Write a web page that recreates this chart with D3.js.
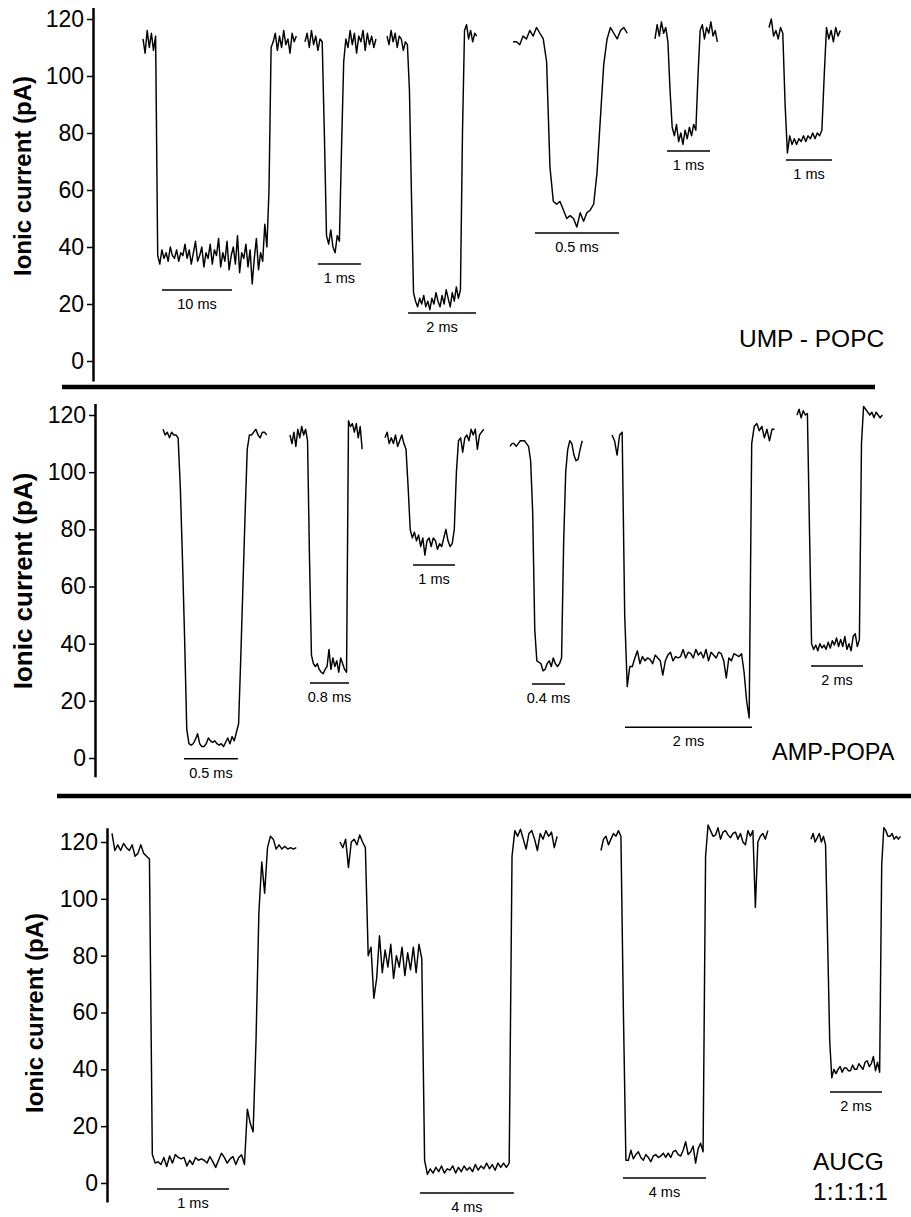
<!DOCTYPE html>
<html lang="en">
<head>
  <meta charset="UTF-8">
  <title>Ionic current blockades</title>
  <script src="https://d3js.org/d3.v7.min.js"></script>
  <style>
    body { margin: 0; background: #fff; }
    svg { display: block; font-family: "Liberation Sans", Arial, sans-serif; }
  </style>
</head>
<body>
<div id="chart"></div>
<script>
  // ---------- data ----------
  var yTicks = [0, 20, 40, 60, 80, 100, 120];
  var yTitle = "Ionic current (pA)";
  var panelNames = [["UMP - POPC"], ["AMP-POPA"], ["AUCG", "1:1:1:1"]];

  // UMP - POPC, current in pA, evenly sampled
  var ump1 = [113,108,116,110,115,109,114,
    37,34,39,36,38,35,40,37,36,39,35,38,37,41,
    36,39,34,38,42,35,37,40,33,38,36,41,34,39,37,
    43,33,38,35,42,32,37,40,34,44,31,38,36,41,33,
    39,27,36,43,32,38,35,48,40,60,110,
    112,115,109,114,110,116,111,113,108,115,112,114];
  var ump2 = [112,115,110,116,111,114,109,113,112,80,
    44,41,46,40,38,44,42,75,105,
    113,110,116,111,115,108,114,112,116,109,115,111,114,110,113];
  var ump3 = [114,111,116,112,115,110,114,113,109,112,111,95,58,
    24,21,19,22,20,23,19,21,18,22,20,24,21,19,23,20,25,22,19,24,21,26,22,25,
    80,116,118,113,116,112,115,114];
  var ump4 = [112,112,111,114,113,116,114,117,115,113,105,68,
    56,55,56,53,50,51,50,47,52,49,52,53,55,66,85,104,
    113,117,115,113,116,117,115];
  var ump5 = [113,118,114,119,115,117,112,95,
    82,79,83,77,80,76,81,78,82,79,83,81,100,
    116,118,113,117,115,119,114,116,112];
  var ump6 = [117,120,114,116,113,117,115,90,
    73,79,76,78,76,78,77,79,77,79,78,80,78,80,79,81,100,
    117,113,116,112,117,114,116];
  var umpDt = [0.3, 0.05, 0.06, 0.02, 0.05, 0.05];   // ms per sample
  var umpBarMs = [10, 1, 2, 0.5, 1, 1];

  // AMP-POPA
  var amp1 = [115,113,114,112,114,113,113,112,95,70,42,10,
    5,4.5,5,6.5,8.5,5,4,4,5,7,6,5.5,6,5,4.5,5,4,5.5,7,5,7.5,6,9,
    12,35,60,85,108,113,113,114,115,113,112,114,114,113];
  var amp2 = [113,110,114,109,115,112,116,113,115,111,70,36,
    33,32,33,31,30,29.5,31,32,38,31,35,32,34,30,35,33,31,30,
    118,116,117,114,117,112,116,108];
  var amp3 = [112,114,110,112,110,113,109,111,113,110,108,95,80,
    77,79,76,78,74,77,71,76,77,74,77,76,73,75,74,77,80,76,74,75,80,
    100,111,112,107,112,113,111,115,113,115,108,113,114,115];
  var amp4 = [109,110,110,109,110,111,111,111,110,109,104,86,45,34,
    33.5,33,30.5,31,33,34,32,35,33,32,33,35,
    75,100,108,111,110,106,104,104.5,108,111];
  var amp5 = [113,111,106,113,114,50,25,
    32,32,35,37.5,33,35.5,34,35,34.5,33,36,35,34,29,34,36,37,34,35.5,35,
    35.5,38,35,37,36.5,35,38,36,37,35,38,34,37,36,35,37,36.5,34,28,35,
    34,36.5,36,35.5,36.5,30,20,14,110,
    116,117,114.5,116,112,115,111,115,115];
  var amp6 = [120,122,119,121.5,120,120.5,80,40,
    38,39.5,37.5,40,38.5,39.5,38,40.5,38.5,41,39.5,42,39,41.5,39,42.5,38,40,37.5,42.5,43.5,39,41.5,
    110,123,122,121,120,121,119,121,120,119,120];
  var ampDt = [0.02, 0.04, 0.05, 0.025, 0.04, 0.08];
  var ampBarMs = [0.5, 0.8, 1, 0.4, 2, 2];

  // AUCG 1:1:1:1
  var aucg1 = [123,117,119,117,119.5,118,117,119,115,116,119,116,115,114,10,
    7,7.5,6.5,9,5.8,9.5,7,10,9,8.5,9,6,8,6.5,9,8,8.5,8,7,9.3,
    7.5,5.5,8,10.5,9,7,8.5,9.3,6.5,9,9.9,6.5,
    26,21,18,50,95,113,102,118,122,121,117.5,119,117.5,118.5,117.5,118,117.5,118];
  var aucg2 = [120,118,121,111,120,121,119,122.5,120,118,80,
    83,65,72,87,74,82,76,84,72,80,76,83,73,81,75,83,74,84,79,8,
    3,5,3.5,5.5,4,6,3.5,5,4.5,6,3.5,5.5,4,6,4.5,5.5,4,6.5,4.5,6,
    5,7,5,6.5,4.5,7,5.5,7,5.5,7,115,
    124,122,124.5,121,117.5,123,124,121,117,123,121,124,122,123.5,118,122];
  var aucg3 = [117,121,122,119,121,123,122,124,122,60,8,
    8,11.5,8.5,10,11,9,8,10,9,7.5,9.5,10,9,9.5,10.5,9,10.5,9,11,11.5,
    10,9.5,11.5,14.5,10,11,13,7,12,14,11,115,126,
    124,122,122.5,125,121,123.5,124,122.5,121.5,123,123.5,121,123,120,119,124,122,124,97,120,
    122,123,121,124];
  var aucg4 = [121,123,120,121.5,123,120,122,119,85,50,37,
    40,38.5,40,41,39,40.5,40.5,39.5,39.5,41.5,40,40,42,41,40,42.5,43,41,42,44.5,39.5,42.5,39,
    112,125,124,122,122,123,121,122,121,122];
  var aucgDt = [0.04, 0.12, 0.12, 0.08];
  var aucgBarMs = [1, 4, 4, 2];

  // ---------- layout ----------
  var W = 911, H = 1217;
  var panels = [
    { events: [ump1, ump2, ump3, ump4, ump5, ump6], dt: umpDt, barMs: umpBarMs,
      axisX: 93, yZero: 361, yTop: 19, axisLo: -7, axisHi: 124,
      x0: [143, 305, 387, 513, 655, 769], pxPerMs: [7, 43, 34, 168, 43, 46],
      barStart: [2.71, 0.30, 0.62, 0.131, 0.28, 0.37],
      barLevel: [24.9, 34, 16.8, 44.9, 73.7, 70.5],
      titleX: 31, titleY: 176, titleSize: 24,
      nameX: 739, nameY: 347, nameSize: 24.5 },
    { events: [amp1, amp2, amp3, amp4, amp5, amp6], dt: ampDt, barMs: ampBarMs,
      axisX: 95, yZero: 758, yTop: 415, axisLo: -6.6, axisHi: 124,
      x0: [163, 290, 385, 510, 612, 797], pxPerMs: [108, 48.75, 42, 82.5, 63.5, 26],
      barStart: [0.194, 0.41, 0.667, 0.267, 0.205, 0.54],
      barLevel: [-0.3, 26.2, 67.5, 25.9, 10.8, 32.2],
      titleX: 32, titleY: 581, titleSize: 26,
      nameX: 772, nameY: 760, nameSize: 23.5 },
    { events: [aucg1, aucg2, aucg3, aucg4], dt: aucgDt, barMs: aucgBarMs,
      axisX: 107, yZero: 1183, yTop: 842, axisLo: -6.7, axisHi: 125,
      x0: [112, 340, 601, 811], pxPerMs: [72, 23.5, 20.75, 26],
      barStart: [0.625, 3.4, 1.06, 0.73],
      barLevel: [-2.1, -3.5, 1.8, 32],
      titleX: 43, titleY: 1013, titleSize: 24,
      nameX: 813, nameY: 1170, nameSize: 24.5 }
  ];
  var separators = [{ y: 387, x1: 62, x2: 875 }, { y: 796, x1: 57, x2: 911 }];

  var svg = d3.select("#chart").append("svg")
    .attr("width", W)
    .attr("height", H);

  panels.forEach(function(p, pi) {
    var y = d3.scaleLinear().domain([0, 120]).range([p.yZero, p.yTop]);
    // same mapping, longer domain so the axis line runs past 0 and 120
    var yAxisScale = d3.scaleLinear()
      .domain([p.axisLo, p.axisHi])
      .range([y(p.axisLo), y(p.axisHi)]);

    var g = svg.append("g").attr("class", "panel");

    var axis = g.append("g")
      .attr("transform", "translate(" + p.axisX + ",0)")
      .call(d3.axisLeft(yAxisScale).tickValues(yTicks)
        .tickSize(6).tickSizeOuter(0).tickPadding(3));
    axis.attr("font-size", 23).attr("font-family", "'Liberation Sans', Arial, sans-serif");
    axis.select(".domain").attr("stroke-width", 2.5);
    axis.selectAll(".tick line").attr("stroke-width", 1.5);

    g.append("text")
      .attr("transform", "translate(" + p.titleX + "," + p.titleY + ") rotate(-90)")
      .attr("text-anchor", "middle")
      .attr("font-weight", "bold")
      .attr("font-size", p.titleSize)
      .text(yTitle);

    p.events.forEach(function(vals, k) {
      var dt = p.dt[k];
      var dur = (vals.length - 1) * dt;
      var x = d3.scaleLinear()
        .domain([0, dur])
        .range([p.x0[k], p.x0[k] + dur * p.pxPerMs[k]]);

      var line = d3.line()
        .x(function(d, i) { return x(i * dt); })
        .y(function(d) { return y(d); });

      g.append("path")
        .datum(vals)
        .attr("d", line)
        .attr("fill", "none")
        .attr("stroke", "#000")
        .attr("stroke-width", 1.45)
        .attr("stroke-linejoin", "round");

      // time scale bar under each event
      var b0 = p.barStart[k], b1 = b0 + p.barMs[k];
      var by = y(p.barLevel[k]);
      g.append("line")
        .attr("x1", x(b0)).attr("x2", x(b1))
        .attr("y1", by).attr("y2", by)
        .attr("stroke", "#000")
        .attr("stroke-width", 1.5);
      g.append("text")
        .attr("x", x((b0 + b1) / 2))
        .attr("y", by + 19)
        .attr("text-anchor", "middle")
        .attr("font-size", 14.5)
        .text(p.barMs[k] + " ms");
    });

    var name = g.append("text")
      .attr("x", p.nameX)
      .attr("y", p.nameY)
      .attr("font-size", p.nameSize);
    panelNames[pi].forEach(function(s, j) {
      name.append("tspan")
        .attr("x", p.nameX)
        .attr("dy", j === 0 ? 0 : "1.22em")
        .text(s);
    });
  });

  svg.selectAll(".sep")
    .data(separators)
    .enter().append("line")
    .attr("class", "sep")
    .attr("x1", function(d) { return d.x1; })
    .attr("x2", function(d) { return d.x2; })
    .attr("y1", function(d) { return d.y; })
    .attr("y2", function(d) { return d.y; })
    .attr("stroke", "#000")
    .attr("stroke-width", 4.5);
</script>
</body>
</html>
